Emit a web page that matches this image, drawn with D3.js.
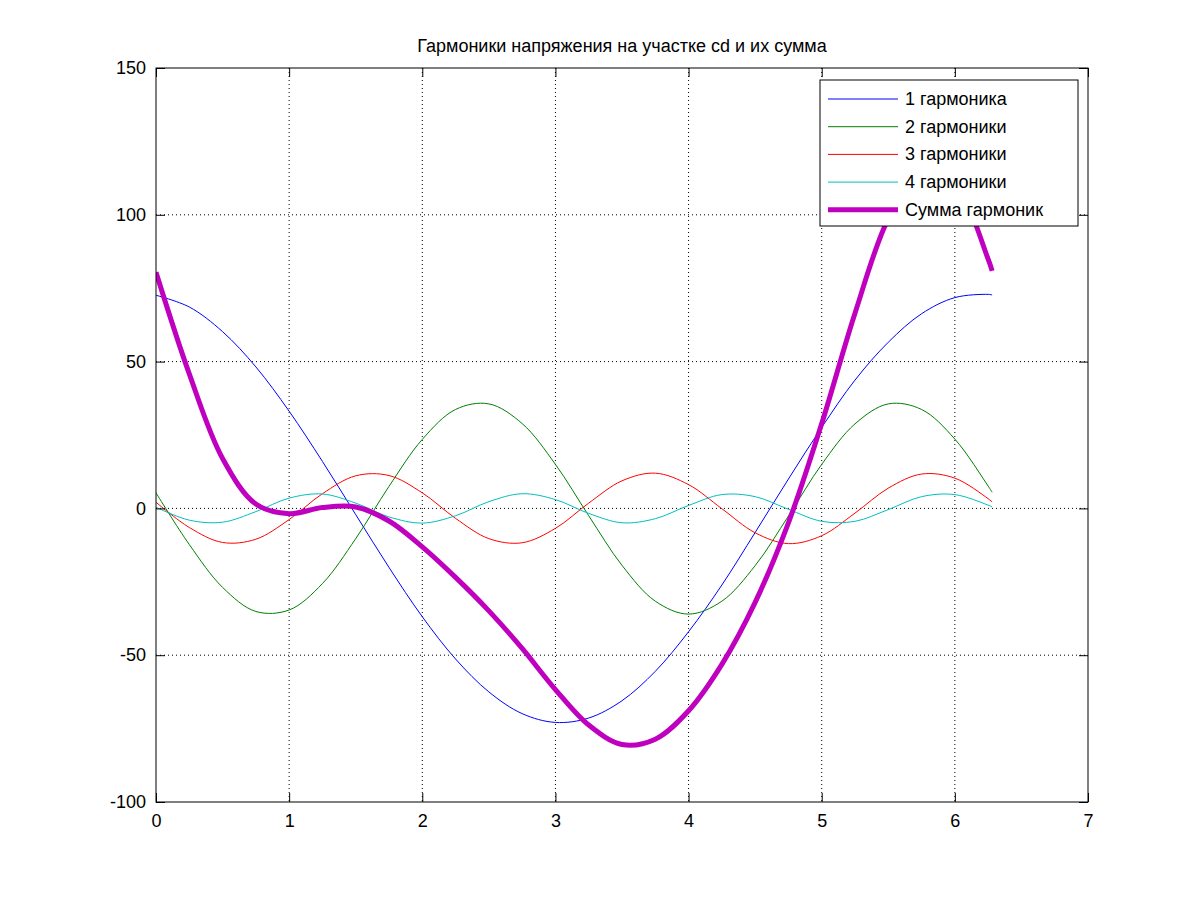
<!DOCTYPE html>
<html lang="ru">
<head>
<meta charset="UTF-8">
<script src="https://cdn.jsdelivr.net/npm/d3@7"></script>
<style>
  body { margin: 0; background: #fff; }
  text { font-family: "Liberation Sans", Arial, sans-serif; }
</style>
</head>
<body>
<svg id="chart" width="1201" height="901"></svg>
<script>
// values
const xs = [0,0.25,0.5,0.75,1,1.25,1.5,1.75,2,2.25,2.5,2.75,3,3.25,3.5,3.75,4,4.25,4.5,4.75,5,5.25,5.5,5.75,6,6.25,6.28];
const harm1 = [72.6,68.6,60.2,48.2,33.1,16.0,-2.1,-20.1,-36.9,-51.3,-62.5,-69.9,-72.9,-71.4,-65.5,-55.5,-42.0,-26.1,-8.2,10.0,27.6,43.7,56.6,66.3,71.8,72.9,72.7];
const harm2 = [5.3,-12.3,-26.9,-35.1,-34.6,-25.6,-10.3,7.5,23.5,33.7,35.6,28.9,15.0,-2.5,-19.4,-31.6,-36,-31.6,-19.5,-2.6,15.0,28.8,35.6,33.7,23.6,7.6,5.5];
const harm3 = [2.1,-6.5,-11.6,-10.5,-3.8,5.0,11.1,11.2,5.3,-3.4,-10.3,-11.7,-6.8,1.8,9.4,12.0,8.1,-0.1,-8.3,-12.0,-9.3,-1.6,6.9,11.7,10.3,3.3,2.2];
const harm4 = [0.4,-4.0,-4.7,-1.1,3.5,4.9,1.8,-2.9,-5.0,-2.5,2.3,5.0,3.0,-1.7,-4.9,-3.5,1.0,4.7,4.0,-0.3,-4.4,-4.4,-0.4,4.0,4.7,1.1,0.5];
const total = [80.4,45.8,17.0,1.5,-1.8,0.3,0.5,-4.3,-13.1,-23.5,-34.9,-47.7,-61.7,-73.8,-80.4,-78.6,-68.9,-53.1,-32.0,-4.9,28.9,66.5,98.7,115.7,110.4,84.9,80.9];
const seriesNames = ["1 гармоника","2 гармоники","3 гармоники","4 гармоники","Сумма гармоник"];
const xTicks = [0,1,2,3,4,5,6,7];
const yTicks = [-100,-50,0,50,100,150];

const series = [
  {name: seriesNames[0], vals: harm1, color: "#0000ff", w: 1},
  {name: seriesNames[1], vals: harm2, color: "#008000", w: 1},
  {name: seriesNames[2], vals: harm3, color: "#ff0000", w: 1},
  {name: seriesNames[3], vals: harm4, color: "#00bfbf", w: 1},
  {name: seriesNames[4], vals: total, color: "#bf00bf", w: 5}
];

const svg = d3.select("#chart");
const L = 156, R = 1088, T = 68, B = 802;
const x = d3.scaleLinear().domain([0, 7]).range([L, R]);
const y = d3.scaleLinear().domain([-100, 150]).range([B, T]);
const fmt = d => String(d);

svg.append("rect").attr("width", 1201).attr("height", 901).attr("fill", "#fff");

// grid
svg.selectAll(".gx").data(xTicks.slice(1, -1)).enter().append("line")
  .attr("x1", d => x(d)).attr("x2", d => x(d)).attr("y1", T).attr("y2", B)
  .attr("stroke", "#000").attr("stroke-width", 1).attr("stroke-dasharray", "1,3");
svg.selectAll(".gy").data(yTicks.slice(1, -1)).enter().append("line")
  .attr("y1", d => y(d)).attr("y2", d => y(d)).attr("x1", L).attr("x2", R)
  .attr("stroke", "#000").attr("stroke-width", 1).attr("stroke-dasharray", "1,3");

// lines
const line = d3.line().x((d, i) => x(xs[i])).y(d => y(d)).curve(d3.curveCatmullRom);
svg.append("defs").append("clipPath").attr("id", "clip")
  .append("rect").attr("x", L).attr("y", T).attr("width", R - L).attr("height", B - T);
series.forEach(s => {
  svg.append("path").datum(s.vals).attr("d", line)
    .attr("fill", "none").attr("stroke", s.color).attr("stroke-width", s.w)
    .attr("clip-path", "url(#clip)");
});

// axes, ticks inward
svg.append("g").attr("transform", `translate(0,${B})`)
  .call(d3.axisBottom(x).tickValues(xTicks).tickSize(-9).tickPadding(12).tickFormat(fmt));
svg.append("g").attr("transform", `translate(0,${T})`)
  .call(d3.axisTop(x).tickValues(xTicks).tickSize(-9).tickFormat(""));
svg.append("g").attr("transform", `translate(${L},0)`)
  .call(d3.axisLeft(y).tickValues(yTicks).tickSize(-9).tickPadding(10).tickFormat(fmt));
svg.append("g").attr("transform", `translate(${R},0)`)
  .call(d3.axisRight(y).tickValues(yTicks).tickSize(-9).tickFormat(""));
svg.selectAll(".domain").remove();
svg.selectAll(".tick text").attr("font-size", 18).attr("fill", "#000")
  .attr("font-family", "Liberation Sans, Arial, sans-serif");
svg.selectAll(".tick line").attr("stroke", "#000");
svg.append("rect").attr("x", L).attr("y", T).attr("width", R - L).attr("height", B - T)
  .attr("fill", "none").attr("stroke", "#000");

// title
svg.append("text").attr("x", (L + R) / 2).attr("y", 52).attr("text-anchor", "middle")
  .attr("font-size", 18).text("Гармоники напряжения на участке cd и их сумма");

// legend
const lg = svg.append("g").attr("transform", "translate(820,80)");
lg.append("rect").attr("width", 258).attr("height", 146).attr("fill", "#fff").attr("stroke", "#000");
series.forEach((s, i) => {
  const yy = 19 + i * 27.7;
  lg.append("line").attr("x1", 8).attr("x2", 78).attr("y1", yy).attr("y2", yy)
    .attr("stroke", s.color).attr("stroke-width", s.w);
  lg.append("text").attr("x", 85).attr("y", yy + 6).attr("font-size", 18).text(s.name);
});
</script>
</body>
</html>
